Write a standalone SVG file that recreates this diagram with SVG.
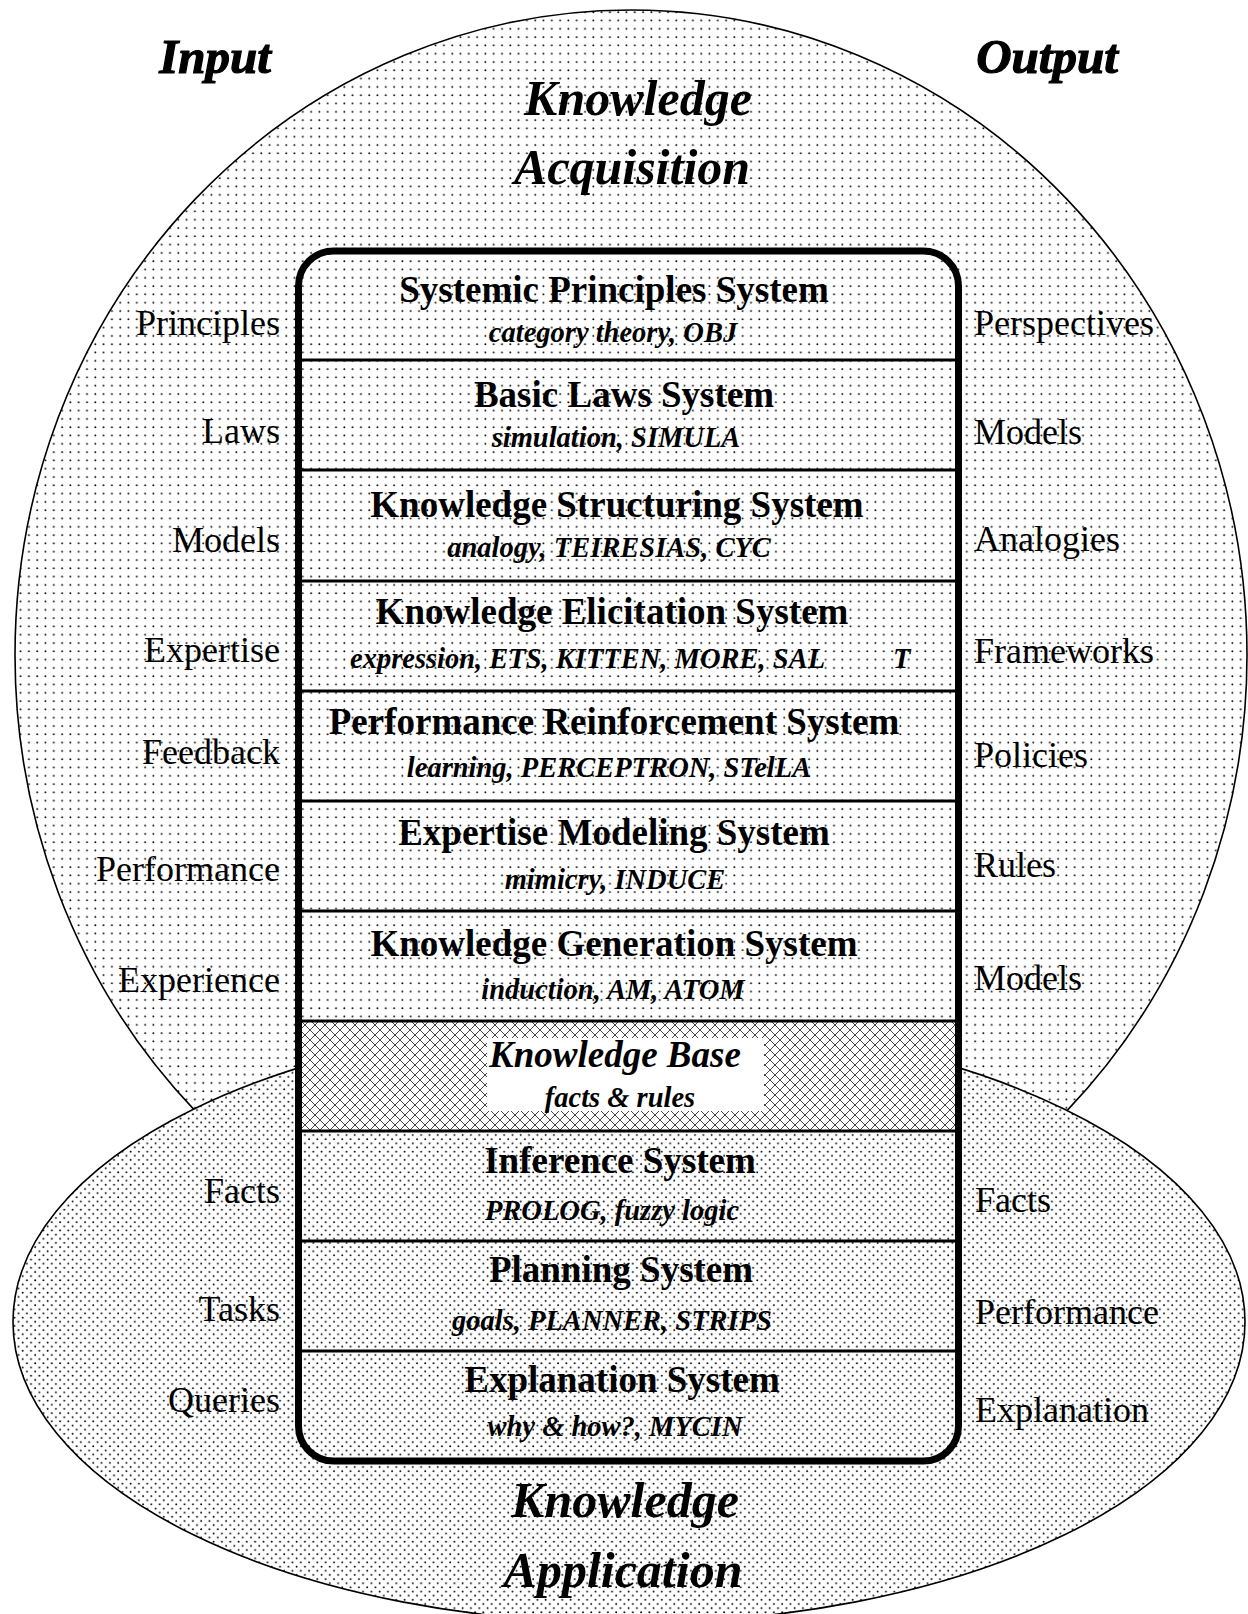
<svg xmlns="http://www.w3.org/2000/svg" width="1248" height="1614" viewBox="0 0 1248 1614">
  <defs>
    <!-- light stipple used for the acquisition region -->
    <pattern id="dotsLight" patternUnits="userSpaceOnUse" width="8.3" height="8.3">
      <rect width="8.3" height="8.3" fill="#fff"/>
      <circle cx="4" cy="4" r="0.95" fill="#000"/>
    </pattern>
    <!-- denser stipple used for the application region -->
    <pattern id="dotsDense" patternUnits="userSpaceOnUse" width="8.3" height="8.3">
      <rect width="8.3" height="8.3" fill="#fff"/>
      <circle cx="2" cy="2" r="0.95" fill="#000"/>
      <circle cx="6.15" cy="6.15" r="0.95" fill="#000"/>
    </pattern>
    <!-- cross-hatch for the knowledge base -->
    <pattern id="hatch" patternUnits="userSpaceOnUse" width="10" height="10">
      <rect width="10" height="10" fill="#fff"/>
      <path d="M0,0 L10,10 M10,0 L0,10" stroke="#333" stroke-width="0.9"/>
    </pattern>
    <style>
      .side { font-family: "Liberation Serif", "Times New Roman", serif; font-size: 36px; fill: #000; }
      .left { text-anchor: end; }
      .right { text-anchor: start; }
      .title { font-family: "Liberation Serif", "Times New Roman", serif; font-size: 37px; font-weight: bold; text-anchor: middle; fill: #000; }
      .sub { font-family: "Liberation Serif", "Times New Roman", serif; font-size: 28.5px; font-weight: bold; font-style: italic; text-anchor: middle; fill: #000; }
      .big { font-family: "Liberation Serif", "Times New Roman", serif; font-size: 50px; font-weight: bold; font-style: italic; text-anchor: middle; fill: #000; }
      .head { font-family: "Liberation Serif", "Times New Roman", serif; font-size: 49px; font-weight: bold; font-style: italic; text-anchor: middle; fill: #000; stroke: #000; stroke-width: 1.2; }
      .divider { stroke: #000; stroke-width: 3; }
    </style>
  </defs>

  <rect width="1248" height="1614" fill="#fff"/>

  <!-- acquisition region -->
  <g id="acquisition">
    <ellipse cx="631" cy="655" rx="616" ry="645" fill="url(#dotsLight)" stroke="#000" stroke-width="1.6"/>
  </g>

  <!-- application region -->
  <g id="application">
    <ellipse cx="629" cy="1322" rx="616" ry="301" fill="url(#dotsDense)" stroke="#000" stroke-width="1.6"/>
  </g>

  <!-- column headings -->
  <g id="headings">
    <text class="head" x="215" y="73">Input</text>
    <text class="head" x="1047" y="73">Output</text>
    <text class="big" x="638" y="115">Knowledge</text>
    <text class="big" x="632" y="184">Acquisition</text>
    <text class="big" x="625" y="1517">Knowledge</text>
    <text class="big" x="623" y="1587">Application</text>
  </g>

  <!-- inputs -->
  <g id="inputs">
    <text class="side left" x="280" y="335">Principles</text>
    <text class="side left" x="280" y="443">Laws</text>
    <text class="side left" x="280" y="552">Models</text>
    <text class="side left" x="280" y="662">Expertise</text>
    <text class="side left" x="280" y="764">Feedback</text>
    <text class="side left" x="280" y="881">Performance</text>
    <text class="side left" x="280" y="992">Experience</text>
    <text class="side left" x="280" y="1203">Facts</text>
    <text class="side left" x="280" y="1321">Tasks</text>
    <text class="side left" x="280" y="1412">Queries</text>
  </g>

  <!-- outputs -->
  <g id="outputs">
    <text class="side right" x="974" y="335">Perspectives</text>
    <text class="side right" x="974" y="444">Models</text>
    <text class="side right" x="974" y="551">Analogies</text>
    <text class="side right" x="974" y="663">Frameworks</text>
    <text class="side right" x="974" y="767">Policies</text>
    <text class="side right" x="974" y="877">Rules</text>
    <text class="side right" x="974" y="990">Models</text>
    <text class="side right" x="975" y="1212">Facts</text>
    <text class="side right" x="975" y="1324">Performance</text>
    <text class="side right" x="975" y="1422">Explanation</text>
  </g>

  <!-- knowledge base band -->
  <g id="knowledge-base">
    <rect x="302" y="1022" width="653" height="108" fill="url(#hatch)"/>
    <rect x="487" y="1038" width="277" height="73" fill="#fff"/>
    <text class="sub" style="font-size:37px;text-anchor:start" x="489" y="1067">Knowledge Base</text>
    <text class="sub" x="620" y="1107">facts &amp; rules</text>
  </g>

  <!-- subsystem stack -->
  <g id="stack">
    <line class="divider" x1="301" y1="360" x2="956" y2="360"/>
    <line class="divider" x1="301" y1="470" x2="956" y2="470"/>
    <line class="divider" x1="301" y1="581" x2="956" y2="581"/>
    <line class="divider" x1="301" y1="691" x2="956" y2="691"/>
    <line class="divider" x1="301" y1="801" x2="956" y2="801"/>
    <line class="divider" x1="301" y1="911" x2="956" y2="911"/>
    <line class="divider" x1="301" y1="1021" x2="956" y2="1021"/>
    <line class="divider" x1="301" y1="1131" x2="956" y2="1131"/>
    <line class="divider" x1="301" y1="1241" x2="956" y2="1241"/>
    <line class="divider" x1="301" y1="1351" x2="956" y2="1351"/>
    <rect x="298.5" y="251" width="660" height="1210" rx="35" ry="35" fill="none" stroke="#000" stroke-width="7"/>
  </g>

  <g id="systemic-principles">
    <text class="title" x="614" y="302">Systemic Principles System</text>
    <text class="sub" x="613" y="342">category theory, OBJ</text>
  </g>
  <g id="basic-laws">
    <text class="title" x="624" y="407">Basic Laws System</text>
    <text class="sub" x="616" y="447">simulation, SIMULA</text>
  </g>
  <g id="knowledge-structuring">
    <text class="title" x="617" y="517">Knowledge Structuring System</text>
    <text class="sub" x="609" y="557">analogy, TEIRESIAS, CYC</text>
  </g>
  <g id="knowledge-elicitation">
    <text class="title" x="612" y="624">Knowledge Elicitation System</text>
    <text class="sub" style="text-anchor:start" y="668"><tspan x="350">expression, ETS, KITTEN, MORE, SAL</tspan><tspan x="893">T</tspan></text>
  </g>
  <g id="performance-reinforcement">
    <text class="title" x="614" y="734">Performance Reinforcement System</text>
    <text class="sub" x="609" y="777">learning, PERCEPTRON, STelLA</text>
  </g>
  <g id="expertise-modeling">
    <text class="title" x="614" y="845">Expertise Modeling System</text>
    <text class="sub" x="615" y="889">mimicry, INDUCE</text>
  </g>
  <g id="knowledge-generation">
    <text class="title" x="614" y="956">Knowledge Generation System</text>
    <text class="sub" x="613" y="999">induction, AM, ATOM</text>
  </g>
  <g id="inference">
    <text class="title" x="620" y="1173">Inference System</text>
    <text class="sub" x="612" y="1220">PROLOG, fuzzy logic</text>
  </g>
  <g id="planning">
    <text class="title" x="621" y="1282">Planning System</text>
    <text class="sub" x="612" y="1330">goals, PLANNER, STRIPS</text>
  </g>
  <g id="explanation">
    <text class="title" x="622" y="1392">Explanation System</text>
    <text class="sub" x="615" y="1436">why &amp; how?, MYCIN</text>
  </g>
</svg>
